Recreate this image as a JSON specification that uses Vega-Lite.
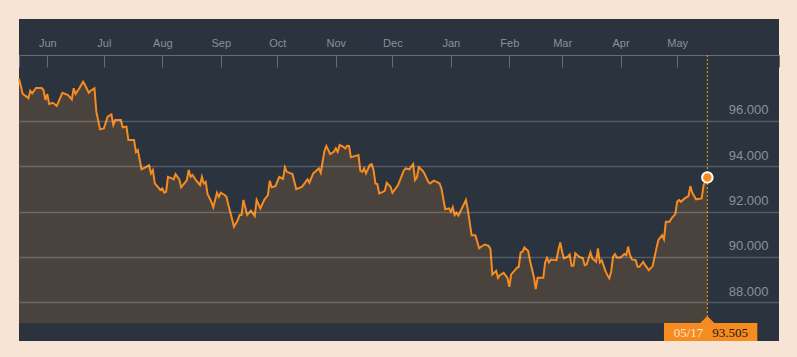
{
  "$schema": "https://vega.github.io/schema/vega-lite/v6.json",
  "width": 760,
  "height": 322,
  "autosize": {"type": "none"},
  "padding": {"left": 19, "top": 19, "right": 18, "bottom": 16},
  "background": "#f8e4d4",
  "config": {
    "view": {"stroke": null, "fill": "#2a333e"},
    "axis": {"labelFont": "Liberation Sans"}
  },
  "data": {"values": [
    {"d":"2017-05-17","v":97.85},{"d":"2017-05-19","v":97.18},{"d":"2017-05-21","v":97.06},{"d":"2017-05-22","v":96.99},
    {"d":"2017-05-23","v":97.32},{"d":"2017-05-24","v":97.21},{"d":"2017-05-26","v":97.44},{"d":"2017-05-29","v":97.44},
    {"d":"2017-05-30","v":97.35},{"d":"2017-05-31","v":96.91},{"d":"2017-06-01","v":97.18},{"d":"2017-06-02","v":96.74},
    {"d":"2017-06-04","v":96.79},{"d":"2017-06-06","v":96.65},{"d":"2017-06-07","v":96.84},{"d":"2017-06-09","v":97.23},
    {"d":"2017-06-12","v":97.13},{"d":"2017-06-14","v":96.94},{"d":"2017-06-15","v":97.43},{"d":"2017-06-16","v":97.18},
    {"d":"2017-06-18","v":97.43},{"d":"2017-06-20","v":97.72},{"d":"2017-06-21","v":97.57},{"d":"2017-06-23","v":97.23},
    {"d":"2017-06-24","v":97.32},{"d":"2017-06-26","v":97.43},{"d":"2017-06-27","v":96.40},{"d":"2017-06-29","v":95.62},
    {"d":"2017-07-01","v":95.66},{"d":"2017-07-03","v":96.18},{"d":"2017-07-05","v":96.28},{"d":"2017-07-06","v":95.81},
    {"d":"2017-07-07","v":96.03},{"d":"2017-07-10","v":96.03},{"d":"2017-07-11","v":95.71},{"d":"2017-07-13","v":95.74},
    {"d":"2017-07-14","v":95.15},{"d":"2017-07-17","v":95.15},{"d":"2017-07-18","v":94.63},{"d":"2017-07-19","v":94.71},
    {"d":"2017-07-21","v":93.86},{"d":"2017-07-23","v":93.95},{"d":"2017-07-25","v":94.04},{"d":"2017-07-26","v":93.68},
    {"d":"2017-07-27","v":93.83},{"d":"2017-07-28","v":93.24},{"d":"2017-07-31","v":92.95},{"d":"2017-08-01","v":93.02},
    {"d":"2017-08-02","v":92.83},{"d":"2017-08-03","v":92.87},{"d":"2017-08-04","v":93.53},{"d":"2017-08-06","v":93.46},
    {"d":"2017-08-07","v":93.42},{"d":"2017-08-08","v":93.65},{"d":"2017-08-10","v":93.42},{"d":"2017-08-11","v":93.07},
    {"d":"2017-08-13","v":93.27},{"d":"2017-08-14","v":93.39},{"d":"2017-08-15","v":93.83},{"d":"2017-08-16","v":93.53},
    {"d":"2017-08-17","v":93.61},{"d":"2017-08-19","v":93.36},{"d":"2017-08-21","v":93.17},{"d":"2017-08-22","v":93.53},
    {"d":"2017-08-23","v":93.24},{"d":"2017-08-24","v":93.31},{"d":"2017-08-25","v":92.77},{"d":"2017-08-27","v":92.43},
    {"d":"2017-08-28","v":92.19},{"d":"2017-08-30","v":92.83},{"d":"2017-08-31","v":92.65},{"d":"2017-09-01","v":92.83},
    {"d":"2017-09-03","v":92.73},{"d":"2017-09-04","v":92.65},{"d":"2017-09-05","v":92.29},{"d":"2017-09-06","v":91.99},
    {"d":"2017-09-08","v":91.33},{"d":"2017-09-10","v":91.63},{"d":"2017-09-11","v":91.85},{"d":"2017-09-12","v":91.85},
    {"d":"2017-09-13","v":92.51},{"d":"2017-09-15","v":91.85},{"d":"2017-09-17","v":92.04},{"d":"2017-09-19","v":91.80},
    {"d":"2017-09-20","v":92.51},{"d":"2017-09-22","v":92.14},{"d":"2017-09-24","v":92.51},{"d":"2017-09-26","v":92.73},
    {"d":"2017-09-27","v":93.36},{"d":"2017-09-28","v":93.07},{"d":"2017-09-30","v":93.12},{"d":"2017-10-02","v":93.53},
    {"d":"2017-10-04","v":93.44},{"d":"2017-10-05","v":93.95},{"d":"2017-10-06","v":93.75},{"d":"2017-10-09","v":93.65},
    {"d":"2017-10-11","v":92.99},{"d":"2017-10-14","v":93.09},{"d":"2017-10-17","v":93.42},{"d":"2017-10-18","v":93.27},
    {"d":"2017-10-20","v":93.68},{"d":"2017-10-23","v":93.90},{"d":"2017-10-24","v":93.71},{"d":"2017-10-26","v":94.68},
    {"d":"2017-10-27","v":94.89},{"d":"2017-10-29","v":94.53},{"d":"2017-10-31","v":94.63},{"d":"2017-11-01","v":94.78},
    {"d":"2017-11-02","v":94.63},{"d":"2017-11-03","v":94.93},{"d":"2017-11-05","v":94.85},{"d":"2017-11-06","v":94.78},
    {"d":"2017-11-07","v":94.90},{"d":"2017-11-08","v":94.89},{"d":"2017-11-09","v":94.39},{"d":"2017-11-11","v":94.44},
    {"d":"2017-11-13","v":94.49},{"d":"2017-11-14","v":93.80},{"d":"2017-11-15","v":93.75},{"d":"2017-11-16","v":93.90},
    {"d":"2017-11-17","v":93.68},{"d":"2017-11-19","v":94.05},{"d":"2017-11-20","v":94.09},{"d":"2017-11-21","v":93.83},
    {"d":"2017-11-22","v":93.24},{"d":"2017-11-23","v":93.21},{"d":"2017-11-24","v":92.80},{"d":"2017-11-26","v":92.87},
    {"d":"2017-11-27","v":92.92},{"d":"2017-11-28","v":93.27},{"d":"2017-11-30","v":93.09},{"d":"2017-12-01","v":92.83},
    {"d":"2017-12-04","v":93.17},{"d":"2017-12-07","v":93.80},{"d":"2017-12-08","v":93.90},{"d":"2017-12-10","v":93.86},
    {"d":"2017-12-12","v":94.09},{"d":"2017-12-13","v":93.39},{"d":"2017-12-14","v":93.51},{"d":"2017-12-15","v":93.95},
    {"d":"2017-12-17","v":93.80},{"d":"2017-12-18","v":93.68},{"d":"2017-12-20","v":93.31},{"d":"2017-12-21","v":93.24},
    {"d":"2017-12-23","v":93.36},{"d":"2017-12-25","v":93.29},{"d":"2017-12-26","v":93.24},{"d":"2017-12-27","v":93.02},
    {"d":"2017-12-29","v":92.10},{"d":"2017-12-31","v":92.14},{"d":"2018-01-01","v":91.99},{"d":"2018-01-02","v":92.19},
    {"d":"2018-01-03","v":91.85},{"d":"2018-01-04","v":91.95},{"d":"2018-01-05","v":91.83},{"d":"2018-01-09","v":92.51},
    {"d":"2018-01-10","v":92.07},{"d":"2018-01-12","v":90.96},{"d":"2018-01-14","v":90.96},{"d":"2018-01-16","v":90.38},
    {"d":"2018-01-17","v":90.45},{"d":"2018-01-19","v":90.55},{"d":"2018-01-21","v":90.49},{"d":"2018-01-22","v":90.35},
    {"d":"2018-01-23","v":89.23},{"d":"2018-01-25","v":89.39},{"d":"2018-01-26","v":89.08},{"d":"2018-01-27","v":89.20},
    {"d":"2018-01-29","v":89.30},{"d":"2018-01-31","v":89.08},{"d":"2018-02-01","v":88.69},{"d":"2018-02-02","v":89.23},
    {"d":"2018-02-04","v":89.42},{"d":"2018-02-05","v":89.52},{"d":"2018-02-06","v":89.56},{"d":"2018-02-07","v":90.20},
    {"d":"2018-02-08","v":90.23},{"d":"2018-02-09","v":90.42},{"d":"2018-02-11","v":90.26},{"d":"2018-02-12","v":89.82},
    {"d":"2018-02-14","v":89.13},{"d":"2018-02-15","v":88.59},{"d":"2018-02-16","v":89.08},{"d":"2018-02-19","v":89.08},
    {"d":"2018-02-20","v":89.76},{"d":"2018-02-21","v":89.96},{"d":"2018-02-22","v":89.76},{"d":"2018-02-23","v":89.89},
    {"d":"2018-02-26","v":89.86},{"d":"2018-02-27","v":90.30},{"d":"2018-02-28","v":90.64},{"d":"2018-03-01","v":90.23},
    {"d":"2018-03-02","v":89.94},{"d":"2018-03-04","v":90.01},{"d":"2018-03-05","v":90.11},{"d":"2018-03-06","v":89.61},
    {"d":"2018-03-07","v":89.61},{"d":"2018-03-08","v":90.16},{"d":"2018-03-10","v":90.01},{"d":"2018-03-12","v":89.94},
    {"d":"2018-03-13","v":89.64},{"d":"2018-03-14","v":89.67},{"d":"2018-03-16","v":90.20},{"d":"2018-03-17","v":89.94},
    {"d":"2018-03-19","v":89.79},{"d":"2018-03-20","v":90.38},{"d":"2018-03-21","v":89.76},{"d":"2018-03-22","v":89.86},
    {"d":"2018-03-24","v":89.38},{"d":"2018-03-25","v":89.20},{"d":"2018-03-26","v":89.06},{"d":"2018-03-27","v":89.35},
    {"d":"2018-03-28","v":90.01},{"d":"2018-03-29","v":90.13},{"d":"2018-03-30","v":89.98},{"d":"2018-04-01","v":89.98},
    {"d":"2018-04-03","v":90.13},{"d":"2018-04-04","v":90.08},{"d":"2018-04-05","v":90.45},{"d":"2018-04-06","v":90.08},
    {"d":"2018-04-07","v":89.89},{"d":"2018-04-09","v":89.86},{"d":"2018-04-10","v":89.57},{"d":"2018-04-11","v":89.57},
    {"d":"2018-04-13","v":89.79},{"d":"2018-04-14","v":89.64},{"d":"2018-04-16","v":89.42},{"d":"2018-04-18","v":89.60},
    {"d":"2018-04-20","v":90.38},{"d":"2018-04-21","v":90.74},{"d":"2018-04-23","v":90.96},{"d":"2018-04-24","v":90.78},
    {"d":"2018-04-25","v":91.55},{"d":"2018-04-27","v":91.55},{"d":"2018-04-28","v":91.70},{"d":"2018-04-30","v":91.89},
    {"d":"2018-05-01","v":92.43},{"d":"2018-05-02","v":92.51},{"d":"2018-05-03","v":92.43},{"d":"2018-05-05","v":92.58},
    {"d":"2018-05-07","v":92.68},{"d":"2018-05-08","v":93.12},{"d":"2018-05-09","v":92.83},{"d":"2018-05-11","v":92.54},
    {"d":"2018-05-14","v":92.58},{"d":"2018-05-15","v":93.17},{"d":"2018-05-17","v":93.505}
  ]},
  "encoding": {
    "x": {
      "field": "d", "type": "temporal", "title": null,
      "scale": {"type": "utc", "nice": false, "domain": [
        {"year": 2017, "month": 5, "date": 17, "utc": true},
        {"year": 2018, "month": 6, "date": 24, "utc": true}
      ]},
      "axis": {
        "orient": "top", "offset": -36, "grid": false,
        "values": [
          {"year": 2017, "month": 5, "date": 17, "utc": true},
          {"year": 2017, "month": 6, "date": 1, "utc": true},
          {"year": 2017, "month": 7, "date": 1, "utc": true},
          {"year": 2017, "month": 8, "date": 1, "utc": true},
          {"year": 2017, "month": 9, "date": 1, "utc": true},
          {"year": 2017, "month": 10, "date": 1, "utc": true},
          {"year": 2017, "month": 11, "date": 1, "utc": true},
          {"year": 2017, "month": 12, "date": 1, "utc": true},
          {"year": 2018, "month": 1, "date": 1, "utc": true},
          {"year": 2018, "month": 2, "date": 1, "utc": true},
          {"year": 2018, "month": 3, "date": 1, "utc": true},
          {"year": 2018, "month": 4, "date": 1, "utc": true},
          {"year": 2018, "month": 5, "date": 1, "utc": true},
          {"year": 2018, "month": 6, "date": 24, "utc": true}
        ],
        "labelExpr": "utcdate(datum.value) == 1 ? utcFormat(datum.value, '%b') : ''",
        "tickSize": -12, "tickColor": "#676c73", "tickWidth": 1,
        "domainColor": "#676c73", "domainWidth": 1,
        "labelPadding": 21, "labelBaseline": "alphabetic", "labelAlign": "center",
        "labelFontSize": 11, "labelColor": "#8c9197",
        "labelFlush": false, "labelOverlap": false
      }
    },
    "y": {
      "field": "v", "type": "quantitative", "title": null,
      "scale": {"domain": [86.3, 100.48], "nice": false, "zero": false},
      "axis": {
        "orient": "right", "offset": -11, "values": [88, 90, 92, 94, 96], "format": ".3f",
        "grid": true, "gridColor": "#ffffff", "gridOpacity": 0.2, "gridWidth": 1.5,
        "ticks": false, "tickSize": 0, "domain": false,
        "labelAlign": "right", "labelPadding": 0, "labelBaseline": "alphabetic", "labelOffset": -7,
        "labelFontSize": 13, "labelColor": "#8c9197", "zindex": 1
      }
    }
  },
  "layer": [
    {
      "data": {"values": [{}]},
      "mark": {"type": "rect", "color": "#222222"},
      "encoding": {
        "x": {"datum": {"year": 2017, "month": 5, "date": 17, "utc": true}, "type": "temporal"},
        "x2": {"datum": {"year": 2018, "month": 6, "date": 24, "utc": true}},
        "y": {"datum": 86.3},
        "y2": {"datum": 87.088}
      }
    },
    {
      "mark": {"type": "area", "color": "#4a433d"},
      "encoding": {"y2": {"datum": 87.088}}
    },
    {
      "mark": {"type": "line", "color": "#f68b1f", "strokeWidth": 2}
    },
    {
      "transform": [{"filter": "datum.v == 93.505"}],
      "mark": {"type": "rule", "color": "#f5a300", "strokeDash": [2, 2], "strokeWidth": 1},
      "encoding": {"y": {"datum": 98.89}, "y2": {"datum": 87.088}}
    },
    {
      "transform": [{"filter": "datum.v == 93.505"}],
      "mark": {"type": "circle", "size": 110, "color": "#f68b1f", "opacity": 1, "stroke": "#ffffff", "strokeWidth": 2}
    },
    {
      "transform": [{"filter": "datum.v == 93.505"}],
      "mark": {"type": "rect", "fill": "#f68b1f", "opacity": 1},
      "encoding": {
        "x": {"datum": {"year": 2018, "month": 4, "date": 24, "utc": true}, "type": "temporal"},
        "x2": {"datum": {"year": 2018, "month": 6, "date": 12, "hours": 12, "utc": true}, "type": "temporal"},
        "y": {"datum": 86.3, "type": "quantitative"},
        "y2": {"datum": 87.088}
      }
    },
    {
      "transform": [{"filter": "datum.v == 93.505"}],
      "mark": {"type": "point", "shape": "M-1,0L0,-1L1,0Z", "filled": true, "size": 196, "color": "#f68b1f", "opacity": 1},
      "encoding": {"y": {"datum": 87.088}}
    },
    {
      "transform": [{"filter": "datum.v == 93.505"}],
      "mark": {"type": "text", "align": "right", "baseline": "alphabetic", "dx": -4, "font": "Liberation Serif", "fontSize": 13, "color": "#fbe6d0"},
      "encoding": {
        "y": {"datum": 86.49},
        "text": {"field": "d", "type": "temporal", "timeUnit": "utcmonthdate", "format": "%m/%d"}
      }
    },
    {
      "transform": [{"filter": "datum.v == 93.505"}],
      "mark": {"type": "text", "align": "left", "baseline": "alphabetic", "dx": 5, "font": "Liberation Serif", "fontSize": 13, "color": "#1a1a1a"},
      "encoding": {
        "y": {"datum": 86.49},
        "text": {"field": "v", "type": "quantitative", "format": ".3f"}
      }
    }
  ]
}
